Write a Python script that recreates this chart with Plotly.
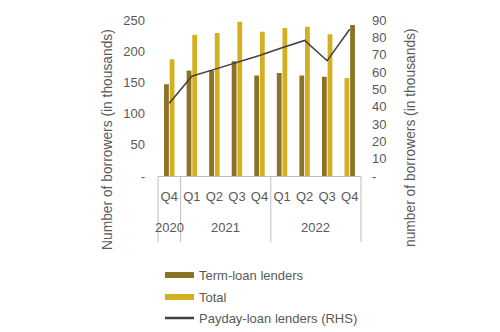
import plotly.graph_objects as go

quarters = ["Q4", "Q1", "Q2", "Q3", "Q4", "Q1", "Q2", "Q3", "Q4"]
years = ["2020", "2021", "2021", "2021", "2021", "2022", "2022", "2022", "2022"]
year_labels = ["2020", "2021", "2022"]
term_loan = [147, 169, 169, 184, 161, 165, 161, 159, 157]
total = [187, 226, 229, 247, 231, 237, 239, 227, 242]
payday = [42, 57.6, 61.5, 65.3, 69.5, 74, 78.2, 66.5, 84.7]
series_names = ["Term-loan lenders", "Total", "Payday-loan lenders (RHS)"]

DARK = "#8C7226"
GOLD = "#D5AF22"
LINE = "#404040"
GREY = "#595959"

cats = list(range(len(quarters)))
n = len(cats)

term_colors = [DARK] * (n - 1) + [GOLD]
total_colors = [GOLD] * (n - 1) + [DARK]

fig = go.Figure()
fig.add_trace(go.Bar(x=cats, y=term_loan, name=series_names[0],
                     marker=dict(color=term_colors, line=dict(width=0)),
                     showlegend=False))
fig.add_trace(go.Bar(x=cats, y=total, name=series_names[1],
                     marker=dict(color=total_colors, line=dict(width=0)),
                     showlegend=False))
fig.add_trace(go.Scatter(x=cats, y=payday, name=series_names[2],
                         mode="lines", line=dict(color=LINE, width=1.5),
                         yaxis="y2", showlegend=False))

font = dict(family="Liberation Sans, Arial, sans-serif", size=13, color=GREY)
H = 156.0  # plot height px
W = 203.0  # plot width px

fig.update_layout(
    width=500, height=332,
    margin=dict(l=158, r=139, t=20, b=156),
    plot_bgcolor="white", paper_bgcolor="white",
    font=font,
    barmode="group", bargap=0.5, bargroupgap=0.15,
    showlegend=False,
    xaxis=dict(tickmode="array", tickvals=cats, ticktext=quarters,
               range=[-0.5, n - 0.5], showline=True, linecolor="#BFBFBF",
               linewidth=1, showgrid=False, zeroline=False, ticks="",
               ticklabelstandoff=8, tickfont=dict(size=13, color=GREY)),
    yaxis=dict(range=[0, 250], tickvals=[0, 50, 100, 150, 200, 250],
               ticktext=["-", "50", "100", "150", "200", "250"],
               showgrid=False, zeroline=False, showline=False,
               ticklabelstandoff=12, tickfont=dict(size=13, color=GREY)),
    yaxis2=dict(range=[0, 90], overlaying="y", side="right",
                tickvals=list(range(0, 91, 10)),
                ticktext=["-"] + [str(v) for v in range(10, 91, 10)],
                showgrid=False, zeroline=False, showline=False,
                ticklabelstandoff=10, tickfont=dict(size=13, color=GREY)),
)

def px(i):
    return (i + 0.5) / n

# year labels
year_centers = {}
for i, y in enumerate(years):
    year_centers.setdefault(y, []).append(i)
for y in year_labels:
    idx = year_centers[y]
    c = (min(idx) + max(idx)) / 2
    fig.add_annotation(x=px(c), y=-51 / H, xref="paper", yref="paper",
                       text=y, showarrow=False, font=dict(size=13, color=GREY),
                       xanchor="center", yanchor="middle")

# dividers
bounds = [-0.5]
for i in range(1, n):
    if years[i] != years[i - 1]:
        bounds.append(i - 0.5)
bounds.append(n - 0.5)
for b in bounds:
    fig.add_shape(type="line", xref="paper", yref="paper",
                  x0=px(b), x1=px(b), y0=0, y1=-66 / H,
                  line=dict(color="#BFBFBF", width=1))

# axis titles
fig.add_annotation(x=-51 / W, y=(176 - 140) / H, xref="paper", yref="paper",
                   text="Number of borrowers (in thousands)", textangle=-90,
                   showarrow=False, font=dict(size=13.8, color=GREY),
                   xanchor="center", yanchor="middle")
fig.add_annotation(x=(410 - 158) / W, y=(176 - 138) / H, xref="paper", yref="paper",
                   text="number of borrowers (in thousands)", textangle=-90,
                   showarrow=False, font=dict(size=13.8, color=GREY),
                   xanchor="center", yanchor="middle")

# manual legend
leg_y = [275, 297, 318]
leg_styles = [("bar", DARK), ("bar", GOLD), ("line", LINE)]
for name, ly, (kind, col) in zip(series_names, leg_y, leg_styles):
    yp = (176 - ly) / H
    if kind == "bar":
        fig.add_shape(type="rect", xref="paper", yref="paper",
                      x0=(165 - 158) / W, x1=(194 - 158) / W,
                      y0=yp - 3 / H, y1=yp + 3 / H,
                      fillcolor=col, line=dict(width=0))
    else:
        fig.add_shape(type="line", xref="paper", yref="paper",
                      x0=(165 - 158) / W, x1=(194 - 158) / W,
                      y0=yp, y1=yp, line=dict(color=col, width=2.5))
    fig.add_annotation(x=(197 - 158) / W, y=yp, xref="paper", yref="paper",
                       text=name, showarrow=False, xanchor="left",
                       yanchor="middle", font=dict(size=13, color=GREY))

fig.write_html("out.html")
